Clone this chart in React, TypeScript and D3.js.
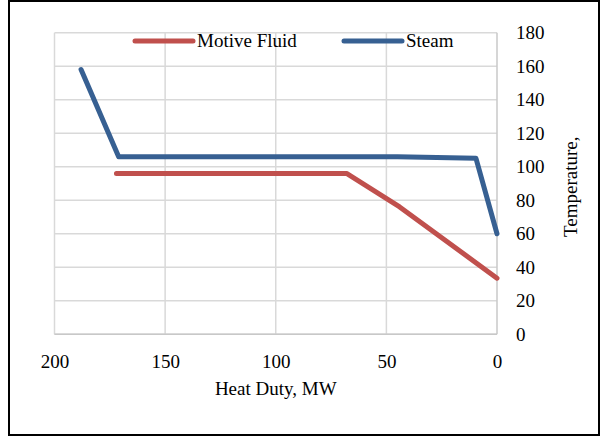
import React, { useEffect, useRef } from 'react';
import * as d3 from 'd3';

// heat duty (MW) and temperature for each curve
const steamDuty = [188, 171, 45, 9.5, 0];
const steamTemp = [158, 106, 106, 105, 60];
const fluidDuty = [172, 68, 44, 0];
const fluidTemp = [96, 96, 76, 33.5];

const xTicks = [200, 150, 100, 50, 0];
const yTicks = [0, 20, 40, 60, 80, 100, 120, 140, 160, 180];

const seriesNames = ['Motive Fluid', 'Steam'];
const seriesColors = ['#C0504D', '#376092'];

export default function App() {
  const ref = useRef<SVGSVGElement>(null);

  useEffect(() => {
    const svg = d3.select(ref.current);
    svg.selectAll('*').remove();

    const width = 602;
    const height = 438;
    const left = 54.5;
    const right = 497;
    const top = 32.7;
    const bottom = 334.3;
    const font = '"Liberation Serif", "Times New Roman", serif';

    svg
      .append('rect')
      .attr('x', 9)
      .attr('y', 1)
      .attr('width', 590)
      .attr('height', 434)
      .attr('fill', '#fff')
      .attr('stroke', '#000')
      .attr('stroke-width', 2);

    const x = d3.scaleLinear().domain([200, 0]).range([left, right]);
    const y = d3.scaleLinear().domain([0, 180]).range([bottom, top]);

    // gridlines
    const grid = svg.append('g');
    grid
      .selectAll('line.h')
      .data(yTicks)
      .enter()
      .append('line')
      .attr('class', 'h')
      .attr('x1', left)
      .attr('x2', right)
      .attr('y1', (d) => y(d))
      .attr('y2', (d) => y(d))
      .attr('stroke', '#d9d9d9')
      .attr('stroke-width', 1.5);
    grid
      .selectAll('line.v')
      .data(xTicks)
      .enter()
      .append('line')
      .attr('class', 'v')
      .attr('y1', top)
      .attr('y2', bottom)
      .attr('x1', (d) => x(d))
      .attr('x2', (d) => x(d))
      .attr('stroke', d => (d === 0 ? '#c8c8c8' : '#d9d9d9'))
      .attr('stroke-width', 1.5);
    grid
      .append('line')
      .attr('x1', left)
      .attr('x2', right)
      .attr('y1', bottom)
      .attr('y2', bottom)
      .attr('stroke', '#c8c8c8')
      .attr('stroke-width', 1.5);

    // axes
    const xAxis = d3.axisBottom(x).tickValues(xTicks).tickSize(0).tickPadding(20);
    const gx = svg
      .append('g')
      .attr('transform', 'translate(0,' + bottom + ')')
      .call(xAxis);
    gx.select('.domain').remove();
    gx.selectAll('text')
      .attr('font-family', font)
      .attr('font-size', 19)
      .attr('fill', '#000');

    const yAxis = d3.axisRight(y).tickValues(yTicks).tickSize(0).tickPadding(19);
    const gy = svg
      .append('g')
      .attr('transform', 'translate(' + right + ',0)')
      .call(yAxis);
    gy.select('.domain').remove();
    gy.selectAll('text')
      .attr('font-family', font)
      .attr('font-size', 19)
      .attr('fill', '#000');

    // lines
    const line = d3
      .line<[number, number]>()
      .x((d) => x(d[0]))
      .y((d) => y(d[1]));

    const fluid = fluidDuty.map((d, i) => [d, fluidTemp[i]] as [number, number]);
    const steam = steamDuty.map((d, i) => [d, steamTemp[i]] as [number, number]);

    [fluid, steam].forEach((pts, i) => {
      svg
        .append('path')
        .attr('d', line(pts))
        .attr('fill', 'none')
        .attr('stroke', seriesColors[i])
        .attr('stroke-width', 5)
        .attr('stroke-linejoin', 'round')
        .attr('stroke-linecap', i === 0 ? 'round' : 'round');
    });

    // legend
    const legendX = [135, 344];
    seriesNames.forEach((name, i) => {
      svg
        .append('line')
        .attr('x1', legendX[i])
        .attr('x2', legendX[i] + 58)
        .attr('y1', 41)
        .attr('y2', 41)
        .attr('stroke', seriesColors[i])
        .attr('stroke-width', 5)
        .attr('stroke-linecap', 'round');
      svg
        .append('text')
        .attr('x', legendX[i] + 62)
        .attr('y', 47)
        .attr('font-family', font)
        .attr('font-size', 19)
        .text(name);
    });

    // axis titles
    svg
      .append('text')
      .attr('x', (left + right) / 2)
      .attr('y', 395)
      .attr('text-anchor', 'middle')
      .attr('font-family', font)
      .attr('font-size', 19)
      .text('Heat Duty, MW');

    svg
      .append('text')
      .attr('transform', 'translate(577,237) rotate(-90)')
      .attr('font-family', font)
      .attr('font-size', 19)
      .text('Temperature,');

    svg.attr('width', width).attr('height', height);
  }, []);

  return (
    <svg
      ref={ref}
      width={602}
      height={438}
      style={{ position: 'absolute', left: 0, top: 0 }}
    />
  );
}
